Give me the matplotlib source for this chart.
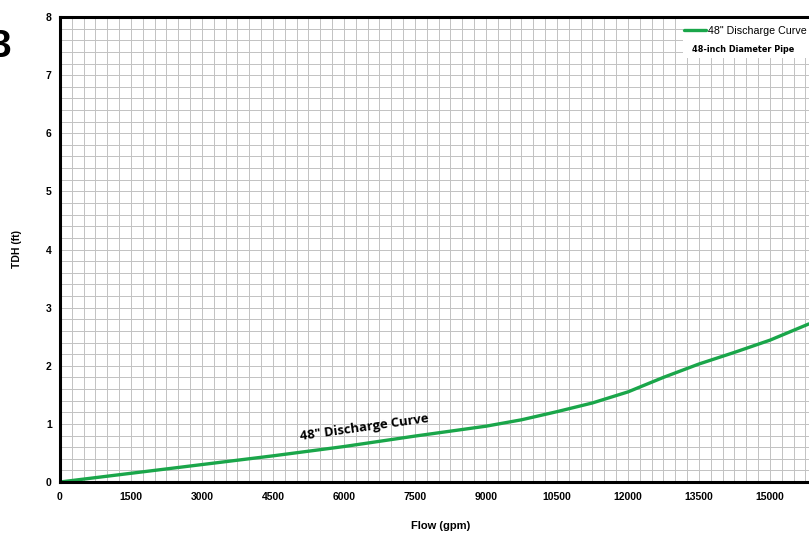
import numpy as np
import matplotlib.pyplot as plt
from matplotlib.ticker import MultipleLocator
from matplotlib.patches import Rectangle

# flow (gpm) vs total dynamic head (ft)
flow = [0, 1500, 3000, 4500, 6000, 7500, 9000, 9750, 10500, 11250,
        12000, 12750, 13500, 14250, 15000, 15824]
tdh = [0, 0.15, 0.30, 0.45, 0.61, 0.79, 0.96, 1.07, 1.21, 1.36,
       1.55, 1.80, 2.03, 2.23, 2.44, 2.72]
xticks = [0, 1500, 3000, 4500, 6000, 7500, 9000, 10500, 12000, 13500, 15000]
yticks = [0, 1, 2, 3, 4, 5, 6, 7, 8]
curve_name = '48" Discharge Curve'
pipe_name = '48-inch Diameter Pipe'

plt.rcParams['font.family'] = ['Liberation Sans', 'DejaVu Sans']
green = '#1aa64a'

fig = plt.figure(figsize=(8.09, 5.35), dpi=100)
ax = fig.add_axes([60 / 809, 53 / 535, 762 / 809, 465 / 535])

line, = ax.plot(flow, tdh, color=green, lw=2.4, solid_capstyle='round',
                solid_joinstyle='round', label=curve_name)

ax.set_xlim(0, 16100)
ax.set_ylim(0, 8)
ax.xaxis.set_minor_locator(MultipleLocator(250))
ax.yaxis.set_minor_locator(MultipleLocator(0.2))
ax.set_xticks(xticks)
ax.set_yticks(yticks)
ax.grid(which='both', color='#c2c2c2', lw=0.7)
ax.set_axisbelow(True)
ax.tick_params(which='both', length=0)
ax.tick_params(axis='x', pad=7)
ax.tick_params(axis='y', pad=6)
for lab in ax.get_xticklabels() + ax.get_yticklabels():
    lab.set_fontweight('bold')
    lab.set_fontsize(7.5)
for side in ['left', 'bottom', 'top']:
    ax.spines[side].set_linewidth(2.2)
ax.spines['right'].set_visible(False)

ax.set_xlabel('Flow (gpm)', fontsize=8, fontweight='bold', labelpad=14)
ax.set_ylabel('TDH (ft)', fontsize=7.5, fontweight='bold', labelpad=17)

# label along the curve
ax.text(6420, 0.94, curve_name, fontsize=9.4, fontweight='bold', rotation=8,
        ha='center', va='center', family=['Open Sans', 'DejaVu Sans'])

# legend box at top right
fig.add_artist(Rectangle((683 / 809, 1 - 58 / 535), 130 / 809, 39 / 535,
                         transform=fig.transFigure, facecolor='white',
                         edgecolor='none', zorder=1))
fig.legend(handles=[line], loc='center left',
           bbox_to_anchor=(684 / 809, 1 - 31 / 535), frameon=False,
           fontsize=7.7, handlelength=2.1, handletextpad=0.1,
           borderpad=0, borderaxespad=0)
fig.text(743 / 809, 1 - 50 / 535, pipe_name, fontsize=5.9, fontweight='bold',
         ha='center', va='center', family=['DejaVu Sans'], zorder=3)

# page number, cut at the left edge
fig.text(11 / 809, 1 - 47 / 535, '3', fontsize=28, fontweight='bold',
         ha='right', va='center')

fig.savefig('out.png', dpi=100)
